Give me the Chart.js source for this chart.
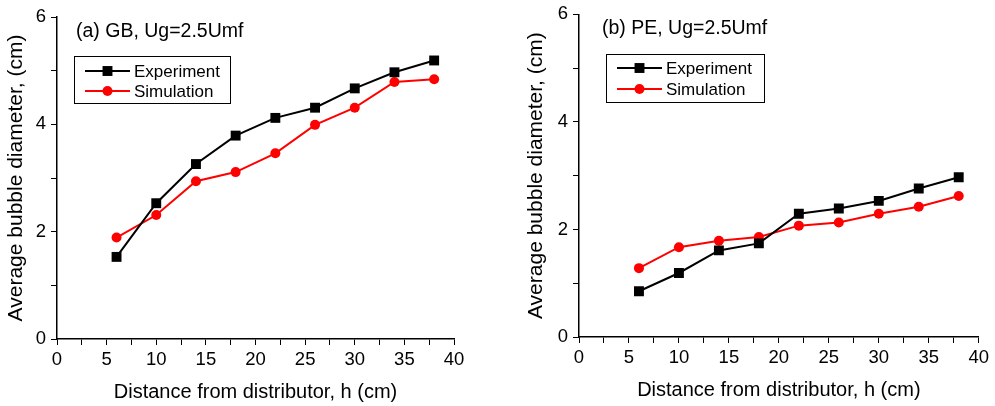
<!DOCTYPE html>
<html>
<head>
<meta charset="utf-8">
<script src="https://cdn.jsdelivr.net/npm/chart.js@4.4.1/dist/chart.umd.min.js"></script>
<style>
  body { margin: 0; background: #fff; }
  .wrap { position: relative; width: 995px; height: 406px; background: #fff; }
  canvas { position: absolute; top: 0; }
</style>
</head>
<body>
<div class="wrap">
  <canvas id="chartGB" width="480" height="406" style="left:0px"></canvas>
  <canvas id="chartPE" width="475" height="406" style="left:520px"></canvas>
</div>
<script>
// distance from distributor, h (cm)
const heights = [6, 10, 14, 18, 22, 26, 30, 34, 38];

// (a) GB, Ug=2.5Umf
const gbExperiment = [1.53, 2.53, 3.26, 3.79, 4.12, 4.31, 4.67, 4.97, 5.19];
const gbSimulation = [1.89, 2.31, 2.94, 3.11, 3.46, 3.99, 4.31, 4.79, 4.84];

// (b) PE, Ug=2.5Umf
const peExperiment = [0.85, 1.19, 1.61, 1.74, 2.29, 2.39, 2.53, 2.76, 2.97];
const peSimulation = [1.28, 1.67, 1.79, 1.86, 2.07, 2.13, 2.29, 2.42, 2.62];

const seriesNames = ['Experiment', 'Simulation'];
const xTitle = 'Distance from distributor, h (cm)';
const yTitle = 'Average bubble diameter, (cm)';

const FONT = '"Liberation Sans", Arial, sans-serif';

const toPoints = (ys) => ys.map((y, i) => ({ x: heights[i], y: y }));

// panel label + boxed legend drawn inside the plot
const panelDecor = {
  id: 'panelDecor',
  afterDraw(chart, args, opts) {
    const ctx = chart.ctx;
    ctx.save();
    ctx.fillStyle = '#000';
    ctx.font = '19.5px ' + FONT;
    ctx.textBaseline = 'alphabetic';
    ctx.fillText(opts.label, opts.labelX, opts.labelY);

    const b = opts.box;
    ctx.strokeStyle = '#000';
    ctx.lineWidth = 1;
    ctx.strokeRect(b.x + 0.5, b.y + 0.5, b.w, b.h);

    ctx.font = '17px ' + FONT;
    ctx.textBaseline = 'middle';
    chart.data.datasets.forEach((ds, i) => {
      const y = b.y + b.rowTop + i * b.rowGap;
      ctx.strokeStyle = ds.borderColor;
      ctx.lineWidth = 2;
      ctx.beginPath();
      ctx.moveTo(b.x + 11, y);
      ctx.lineTo(b.x + 56, y);
      ctx.stroke();
      const mx = b.x + 33.5;
      ctx.fillStyle = ds.backgroundColor;
      if (ds.pointStyle === 'rect') {
        const s = ds.pointRadius * Math.SQRT1_2;
        ctx.fillRect(mx - s, y - s, 2 * s, 2 * s);
      } else {
        ctx.beginPath();
        ctx.arc(mx, y, ds.pointRadius, 0, Math.PI * 2);
        ctx.fill();
      }
      ctx.fillStyle = '#000';
      ctx.fillText(ds.label, b.x + 60, y + 1);
    });
    ctx.restore();
  }
};

function makeChart(id, expData, simData, o) {
  const ctx = document.getElementById(id).getContext('2d');
  return new Chart(ctx, {
    type: 'line',
    data: {
      datasets: [{
        label: seriesNames[0],
        data: toPoints(expData),
        borderColor: '#000000',
        backgroundColor: '#000000',
        borderWidth: 2,
        pointStyle: 'rect',
        pointRadius: 7,
        pointBorderWidth: 0,
        tension: 0
      }, {
        label: seriesNames[1],
        data: toPoints(simData),
        borderColor: '#ff0000',
        backgroundColor: '#ff0000',
        borderWidth: 2,
        pointStyle: 'circle',
        pointRadius: 5,
        pointBorderWidth: 0,
        tension: 0
      }]
    },
    options: {
      responsive: false,
      animation: false,
      devicePixelRatio: 1,
      layout: { padding: o.padding },
      plugins: {
        legend: { display: false },
        tooltip: { enabled: false },
        panelDecor: o.decor
      },
      scales: {
        x: {
          type: 'linear',
          min: 0,
          max: 40,
          afterFit: (s) => { s.height = o.xHeight; },
          ticks: {
            stepSize: 2.5,
            autoSkip: false,
            maxRotation: 0,
            padding: 6,
            color: '#000',
            font: { family: FONT, size: 18.5, lineHeight: 1 },
            callback: (v) => (v % 5 === 0 ? v : '')
          },
          grid: { drawOnChartArea: false, color: '#000', tickLength: 6, lineWidth: 1 },
          border: { color: '#000', width: 1.5 },
          title: {
            display: true,
            text: xTitle,
            color: '#000',
            font: { family: FONT, size: 20 },
            padding: { top: 0, bottom: o.xTitlePad }
          }
        },
        y: {
          min: 0,
          max: 6,
          afterFit: (s) => { s.width = o.yWidth; },
          ticks: {
            stepSize: 1,
            autoSkip: false,
            padding: 5,
            color: '#000',
            font: { family: FONT, size: 18.5, lineHeight: 1 },
            callback: (v) => (v % 2 === 0 ? v : '')
          },
          grid: { drawOnChartArea: false, color: '#000', tickLength: 6, lineWidth: 1 },
          border: { color: '#000', width: 1.5 },
          title: {
            display: true,
            text: yTitle,
            color: '#000',
            font: { family: FONT, size: 21 },
            padding: { top: 4, bottom: 0 }
          }
        }
      }
    },
    plugins: [panelDecor]
  });
}

makeChart('chartGB', gbExperiment, gbSimulation, {
  padding: { top: 17, right: 26, left: 0, bottom: 0 },
  xHeight: 67,
  yWidth: 57,
  xTitlePad: 2,
  decor: {
    label: '(a) GB, Ug=2.5Umf',
    labelX: 76, labelY: 37,
    box: { x: 74, y: 56, w: 156, h: 47, rowTop: 15, rowGap: 20 }
  }
});

makeChart('chartPE', peExperiment, peSimulation, {
  padding: { top: 8, right: 12, left: 0, bottom: 0 },
  xHeight: 69,
  yWidth: 59,
  xTitlePad: 4,
  decor: {
    label: '(b) PE, Ug=2.5Umf',
    labelX: 82, labelY: 34,
    box: { x: 86, y: 54, w: 158, h: 48, rowTop: 14, rowGap: 21 }
  }
});
</script>
</body>
</html>
